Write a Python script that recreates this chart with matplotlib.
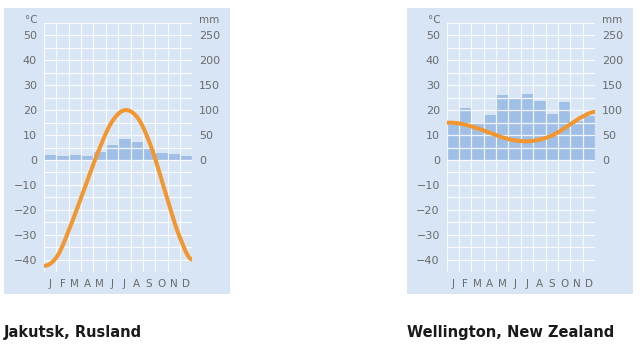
import matplotlib.pyplot as plt
import numpy as np
from matplotlib.patches import Rectangle

months = ["J", "F", "M", "A", "M", "J", "J", "A", "S", "O", "N", "D"]

# Jakutsk
temp_jak = [-42.5, -38.5, -26, -11.5, 3, 15, 20, 16.5, 4.5, -13, -30, -40]
prec_jak = [10, 8, 9, 7, 16, 31, 42, 37, 23, 14, 11, 8]

# Wellington
temp_wel = [15, 14.6, 13.2, 11.3, 9.3, 7.9, 7.5, 8.3, 10.3, 13.7, 17.2, 19.3]
prec_wel = [75, 105, 74, 91, 131, 123, 132, 118, 93, 117, 78, 88]

titles = ["Jakutsk, Rusland", "Wellington, New Zealand"]

BG = "#d7e5f5"
BAR = "#a0bfe7"
ORANGE = "#f29630"
TXT = "#6b6b6b"

W, H = 640, 349
fig = plt.figure(figsize=(W / 100, H / 100), dpi=100)
fig.patch.set_facecolor("white")


def smooth(y, n=400):
    # Catmull-Rom door de maandwaarden, alleen voor de weergave
    y = np.asarray(y, float)
    p = np.concatenate([[y[1]], y, [y[-2]]])  # vlakke uiteinden
    xs, ys = [], []
    for i in range(len(y) - 1):
        t = np.linspace(0, 1, n // len(y), endpoint=False)
        p0, p1, p2, p3 = p[i], p[i + 1], p[i + 2], p[i + 3]
        ys.append(0.5 * (2 * p1 + (-p0 + p2) * t + (2 * p0 - 5 * p1 + 4 * p2 - p3) * t**2
                         + (-p0 + 3 * p1 - 3 * p2 + p3) * t**3))
        xs.append(i + t)
    xs.append([len(y) - 1])
    ys.append([y[-1]])
    return np.concatenate(xs), np.concatenate(ys)


def panel(box_x, ax_x, temp, prec, title):
    fig.patches.append(Rectangle((box_x / W, 1 - 294 / H), 226 / W, 286 / H,
                                 transform=fig.transFigure, facecolor=BG,
                                 edgecolor="none", zorder=-10))
    ax = fig.add_axes([ax_x / W, 1 - 272 / H, 148.3 / W, 249 / H])
    ax.set_facecolor("none")
    ax.set_xlim(0, 12)
    ax.set_ylim(-45, 55)
    x = np.arange(12) + 0.5

    ax2 = ax.twinx()
    ax2.set_ylim(-225, 275)
    ax2.bar(x, prec, width=1.0, color=BAR, zorder=1)

    for v in np.arange(-45, 56, 5):
        ax2.axhline(v * 5, color="white", lw=0.9, alpha=0.85, zorder=2)
    for v in range(13):
        ax2.axvline(v, color="white", lw=0.9, alpha=0.85, zorder=2)

    tx, ty = smooth(temp)
    ax2.plot(tx * 12 / 11, np.asarray(ty) * 5, color=ORANGE, lw=2.9,
             solid_capstyle="round", zorder=3)

    for a in (ax, ax2):
        for s in a.spines.values():
            s.set_visible(False)
    ax.set_yticks(np.arange(-40, 51, 10))
    ax.set_yticklabels([str(v).replace("-", "\u2212") for v in range(-40, 51, 10)])
    ax2.set_yticks(np.arange(0, 251, 50))
    ax.set_xticks(x)
    ax.set_xticklabels(months)
    ax.tick_params(axis="y", length=0, pad=5, labelsize=8, labelcolor=TXT)
    ax.tick_params(axis="x", length=0, pad=5, labelsize=7.5, labelcolor=TXT)
    ax2.tick_params(axis="y", length=0, pad=5, labelsize=8, labelcolor=TXT)

    fig.text((ax_x - 6) / W, 1 - 20 / H, "°C", ha="right", va="center",
             fontsize=7.5, color=TXT)
    fig.text((ax_x + 155) / W, 1 - 20 / H, "mm", ha="left", va="center",
             fontsize=7.5, color=TXT)
    fig.text(box_x / W, 1 - 333 / H, title, ha="left", va="center",
             fontsize=10.5, fontweight="bold", color="#1a1a1a",
             family="DejaVu Sans")


panel(4, 44, temp_jak, prec_jak, titles[0])
panel(407, 446.7, temp_wel, prec_wel, titles[1])

fig.savefig("out.png", dpi=100)
